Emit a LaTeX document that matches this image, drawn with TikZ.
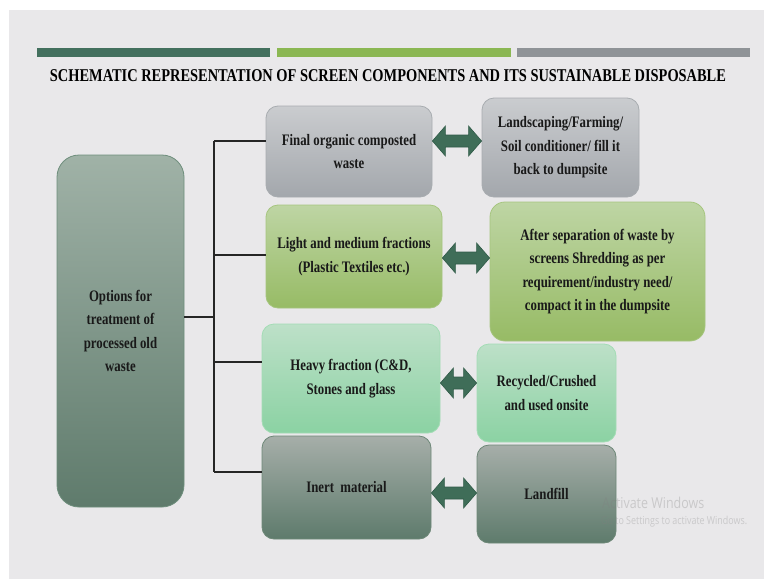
\documentclass[tikz,border=0pt]{standalone}
\usepackage{fontspec}
\setmainfont{Liberation Serif}[FakeStretch=0.8]
\newfontfamily\winfont{Open Sans}
\usepackage{graphicx}
\usepackage{tikz}
\usetikzlibrary{calc}
\usetikzlibrary{shapes,arrows}

\definecolor{slidebg}{HTML}{E9E8EA}
\definecolor{bardark}{HTML}{43705E}
\definecolor{barlight}{HTML}{8BB753}
\definecolor{bargrey}{HTML}{8F9397}
\definecolor{opttop}{HTML}{A0B2A7}
\definecolor{optbot}{HTML}{5F7B6C}
\definecolor{optedge}{HTML}{6E8E7C}
\definecolor{greytop}{HTML}{CACCCF}
\definecolor{greybot}{HTML}{A3A7AC}
\definecolor{greyedge}{HTML}{A8ACB0}
\definecolor{leaftop}{HTML}{BED5A4}
\definecolor{leafbot}{HTML}{97BB65}
\definecolor{leafedge}{HTML}{A6C57F}
\definecolor{minttop}{HTML}{BDE0C8}
\definecolor{mintbot}{HTML}{8BD2A3}
\definecolor{mintedge}{HTML}{A3DCB5}
\definecolor{slatetop}{HTML}{A6AEA9}
\definecolor{slatebot}{HTML}{5E7B6C}
\definecolor{slateedge}{HTML}{6E8878}
\definecolor{arrowfill}{HTML}{3F6D58}
\definecolor{arrowedge}{HTML}{2F5A47}
\definecolor{winmark}{HTML}{808080}

\tikzset{
  box/.style={rounded corners=12pt, draw, line width=0.8pt, align=center, inner sep=0pt,
    font=\fontsize{16}{23.5}\selectfont\bfseries, text=black!90},
  greybox/.style={box, draw=greyedge, top color=greytop, bottom color=greybot},
  leafbox/.style={box, draw=leafedge, top color=leaftop, bottom color=leafbot},
  mintbox/.style={box, draw=mintedge, top color=minttop, bottom color=mintbot},
  slatebox/.style={box, draw=slateedge, top color=slatetop, bottom color=slatebot},
  optbox/.style={box, rounded corners=22pt, draw=optedge, top color=opttop, bottom color=optbot},
  link/.style={line width=1.5pt, draw=black!85},
  winline/.style={anchor=west, text=winmark, text opacity=0.3, inner sep=0pt},
  dblarrow/.style={fill=arrowfill, draw=arrowedge, line width=0.6pt, line join=miter,
    to path={let \p1=(\tikztostart), \p2=(\tikztotarget) in
      -- (\x1+13pt,\y1+15pt) -- (\x1+13pt,\y1+6pt) -- (\x2-13pt,\y1+6pt) -- (\x2-13pt,\y1+15pt)
      -- (\x2,\y1) -- (\x2-13pt,\y1-15pt) -- (\x2-13pt,\y1-6pt) -- (\x1+13pt,\y1-6pt)
      -- (\x1+13pt,\y1-15pt) -- cycle}}
}

\begin{document}
\begin{tikzpicture}[x=1pt, y=-1pt]
        \useasboundingbox (0,0) rectangle (764,579);
        \fill[slidebg] (9,10) rectangle (764,579);

        % Header
        \fill[bardark]  (37,48)  rectangle (270,57);
        \fill[barlight] (277,48) rectangle (511,57);
        \fill[bargrey]  (517,48) rectangle (750,57);
        \draw (388,76) node(title) {\resizebox{676pt}{\height}{\fontsize{18}{18}\selectfont\bfseries SCHEMATIC REPRESENTATION OF SCREEN COMPONENTS AND ITS SUSTAINABLE DISPOSABLE}};

        % Nodes
        \draw (120.5,331) node(opt) [optbox, minimum width=127, minimum height=352] {Options for\\treatment of\\processed old\\waste};

        \draw (349,151.5) node(b1) [greybox, minimum width=166, minimum height=91]  {Final organic composted\\waste};
        \draw (354,256.5) node(b2) [leafbox, minimum width=176, minimum height=103] {Light and medium fractions\\(Plastic Textiles etc.)};
        \draw (351,378.5) node(b3) [mintbox, minimum width=178, minimum height=109] {Heavy fraction (C\&D,\\Stones and glass};
        \draw (346.5,487.5) node(b4) [slatebox, minimum width=169, minimum height=103] {Inert\ \ material};

        \draw (560.5,147.5) node(r1) [greybox, minimum width=157, minimum height=99]  {Landscaping/Farming/\\Soil conditioner/ fill it\\back to dumpsite};
        \draw (597.5,271.5) node(r2) [leafbox, rounded corners=15pt, minimum width=215, minimum height=139] {After separation of waste by\\screens Shredding as per\\requirement/industry need/\\compact it in the dumpsite};
        \draw (546.5,393) node(r3) [mintbox, minimum width=139, minimum height=98] {Recycled/Crushed\\and used onsite};
        \draw (546.5,494) node(r4) [slatebox, minimum width=139, minimum height=98] {Landfill};

        % Tree
        \coordinate (jopt) at (214,317);
        \coordinate (j1) at (214,141);
        \coordinate (j2) at (214,255);
        \coordinate (j3) at (214,362);
        \coordinate (j4) at (214,472);
        \draw[link] (j1) -- (j4);
        \draw[link] (jopt -| opt.east) -- (jopt);
        \draw[link] (j1) -- (j1 -| b1.west);
        \draw[link] (j2) -- (j2 -| b2.west);
        \draw[link] (j3) -- (j3 -| b3.west);
        \draw[link] (j4) -- (j4 -| b4.west);

        % Arrows
        \draw[dblarrow] (b1.east |- 0,141) to (r1.west |- 0,141);
        \draw[dblarrow] (b2.east |- 0,258) to (r2.west |- 0,258);
        \draw[dblarrow] (b3.east |- 0,383) to (r3.west |- 0,383);
        \draw[dblarrow] (b4.east |- 0,493) to (r4.west |- 0,493);

        % Watermark
        \draw (602,503) node(win1) [winline] {\resizebox{102pt}{\height}{\winfont\fontsize{15}{15}\selectfont Activate Windows}};
        \draw (601,522) node(win2) [winline] {\resizebox{146pt}{\height}{\winfont\fontsize{11}{11}\selectfont Go to Settings to activate Windows.}};

\end{tikzpicture}
\end{document}
